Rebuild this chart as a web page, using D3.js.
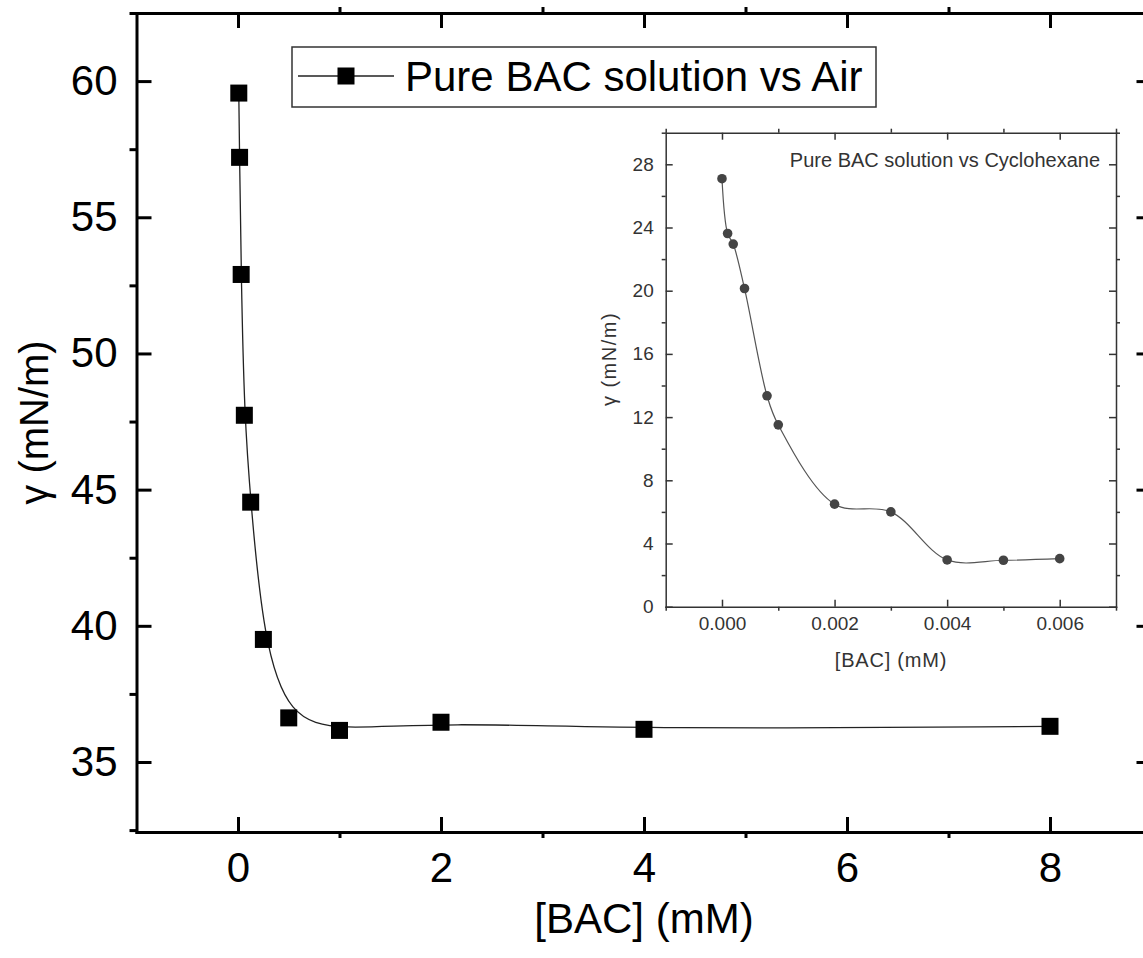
<!DOCTYPE html>
<html>
<head>
<meta charset="utf-8">
<script src="https://cdn.jsdelivr.net/npm/d3@7"></script>
<style>
  html, body { margin: 0; padding: 0; background: #fff; }
  svg { display: block; }
  text { font-family: "Liberation Sans", Arial, sans-serif; }
</style>
</head>
<body>
<svg id="chart" width="1143" height="958"></svg>
<script>
// ---- Main chart data: Pure BAC solution vs Air ----
const airConc = [0.0078125, 0.015625, 0.03125, 0.0625, 0.125, 0.25, 0.5, 1, 2, 4, 8];
const airGamma = [59.56, 57.2, 52.9, 47.73, 44.54, 39.5, 36.62, 36.16, 36.46, 36.2, 36.31];
const mainXTicks = [0, 2, 4, 6, 8];
const mainXMinor = [1, 3, 5, 7];
const mainYTicks = [35, 40, 45, 50, 55, 60];
const mainYMinor = [32.5, 37.5, 42.5, 47.5, 52.5, 57.5, 62.5];
const legendLabel = "Pure BAC solution vs Air";

// ---- Inset data: Pure BAC solution vs Cyclohexane ----
const cycConc = [0, 0.0001, 0.0002, 0.0004, 0.0008, 0.001, 0.002, 0.003, 0.004, 0.005, 0.006];
const cycGamma = [27.09, 23.62, 22.95, 20.14, 13.35, 11.51, 6.49, 6.0, 2.96, 2.94, 3.04];
const insetXTicks = [0, 0.002, 0.004, 0.006];
const insetXMinor = [-0.001, 0.001, 0.003, 0.005, 0.007];
const insetYTicks = [0, 4, 8, 12, 16, 20, 24, 28];
const insetYMinor = [2, 6, 10, 14, 18, 22, 26, 30];
const insetTitle = "Pure BAC solution vs Cyclohexane";

const svg = d3.select("#chart");
const FF = "Liberation Sans, Arial, sans-serif";
const MF = 42; // main font size

// ================= MAIN =================
const x = d3.scaleLinear().domain([-1, 9]).range([136.5, 1151.5]);
const y = d3.scaleLinear().domain([32.43, 62.5]).range([832, 13]);
const X0 = x.range()[0], X1 = x.range()[1], Y0 = y.range()[0], Y1 = y.range()[1];

const main = svg.append("g");

function styleAxis(g, width, color) {
  g.selectAll("path.domain").attr("stroke", color).attr("stroke-width", width).attr("stroke-linecap", "square");
  g.selectAll(".tick line").attr("stroke", color).attr("stroke-width", width);
}

// bottom: majors inward with labels
main.append("g").attr("transform", `translate(0,${Y0})`)
  .call(d3.axisBottom(x).tickValues(mainXTicks).tickFormat(d3.format("d")).tickSize(-15).tickSizeOuter(0).tickPadding(20))
  .call(g => { styleAxis(g, 3, "#000"); g.selectAll("text").attr("font-size", MF).attr("fill", "#000").attr("font-family", FF); });
main.append("g").attr("transform", `translate(0,${Y0})`)
  .call(d3.axisBottom(x).tickValues(mainXMinor).tickFormat("").tickSize(6).tickSizeOuter(0))
  .call(g => { styleAxis(g, 3, "#000"); g.select("path.domain").remove(); });
// top
main.append("g").attr("transform", `translate(0,${Y1})`)
  .call(d3.axisTop(x).tickValues(mainXTicks).tickFormat("").tickSize(-15).tickSizeOuter(0))
  .call(g => styleAxis(g, 3, "#000"));
main.append("g").attr("transform", `translate(0,${Y1})`)
  .call(d3.axisTop(x).tickValues(mainXMinor).tickFormat("").tickSize(6).tickSizeOuter(0))
  .call(g => { styleAxis(g, 3, "#000"); g.select("path.domain").remove(); });
// left
main.append("g").attr("transform", `translate(${X0},0)`)
  .call(d3.axisLeft(y).tickValues(mainYTicks).tickFormat(d3.format("d")).tickSize(-15).tickSizeOuter(0).tickPadding(19))
  .call(g => { styleAxis(g, 3, "#000"); g.selectAll("text").attr("font-size", MF).attr("fill", "#000").attr("font-family", FF); });
main.append("g").attr("transform", `translate(${X0},0)`)
  .call(d3.axisLeft(y).tickValues(mainYMinor).tickFormat("").tickSize(7).tickSizeOuter(0))
  .call(g => { styleAxis(g, 3, "#000"); g.select("path.domain").remove(); });
// right
main.append("g").attr("transform", `translate(${X1},0)`)
  .call(d3.axisRight(y).tickValues(mainYTicks).tickFormat("").tickSize(-15).tickSizeOuter(0))
  .call(g => styleAxis(g, 3, "#000"));
main.append("g").attr("transform", `translate(${X1},0)`)
  .call(d3.axisRight(y).tickValues(mainYMinor).tickFormat("").tickSize(7).tickSizeOuter(0))
  .call(g => { styleAxis(g, 3, "#000"); g.select("path.domain").remove(); });

// axis titles
main.append("text").attr("x", (X0 + X1) / 2).attr("y", 933).attr("text-anchor", "middle")
  .attr("font-size", MF).attr("fill", "#000").text("[BAC] (mM)");
main.append("text").attr("transform", `translate(48,${(Y0 + Y1) / 2}) rotate(-90)`).attr("text-anchor", "middle")
  .attr("font-size", 40).attr("fill", "#000").text("γ (mN/m)");

// curve + markers
const airPts = airConc.map((c, i) => [c, airGamma[i]]);
main.append("path").datum(airPts)
  .attr("fill", "none").attr("stroke", "#222").attr("stroke-width", 1.3)
  .attr("d", d3.line().x(d => x(d[0])).y(d => y(d[1])).curve(d3.curveBasis));
const sq = 17;
main.append("g").selectAll("rect").data(airPts).join("rect")
  .attr("x", d => x(d[0]) - sq / 2).attr("y", d => y(d[1]) - sq / 2)
  .attr("width", sq).attr("height", sq).attr("fill", "#000");

// legend
const leg = main.append("g");
leg.append("rect").attr("x", 292).attr("y", 47).attr("width", 584).attr("height", 60)
  .attr("fill", "#fff").attr("stroke", "#333").attr("stroke-width", 1.5);
leg.append("line").attr("x1", 298).attr("x2", 394).attr("y1", 76).attr("y2", 76)
  .attr("stroke", "#222").attr("stroke-width", 1.3);
leg.append("rect").attr("x", 346 - sq / 2).attr("y", 76 - sq / 2).attr("width", sq).attr("height", sq).attr("fill", "#000");
leg.append("text").attr("x", 405).attr("y", 91).attr("font-size", MF).attr("fill", "#000").text(legendLabel);

// ================= INSET =================
const ix = d3.scaleLinear().domain([-0.001, 0.007]).range([665.7, 1116]);
const iy = d3.scaleLinear().domain([0, 30]).range([606.7, 132.7]);
const IX0 = ix.range()[0], IX1 = ix.range()[1], IY0 = iy.range()[0], IY1 = iy.range()[1];
const inset = svg.append("g");
const ic = "#333";

inset.append("rect").attr("x", IX0).attr("y", IY1).attr("width", IX1 - IX0).attr("height", IY0 - IY1).attr("fill", "#fff");

inset.append("g").attr("transform", `translate(0,${IY0})`)
  .call(d3.axisBottom(ix).tickValues(insetXTicks).tickFormat(d3.format(".3f")).tickSize(-7).tickSizeOuter(0).tickPadding(10))
  .call(g => { styleAxis(g, 1.5, ic); g.selectAll("text").attr("font-size", 19).attr("fill", ic).attr("font-family", FF); });
inset.append("g").attr("transform", `translate(0,${IY0})`)
  .call(d3.axisBottom(ix).tickValues(insetXMinor).tickFormat("").tickSize(4).tickSizeOuter(0))
  .call(g => { styleAxis(g, 1.5, ic); g.select("path.domain").remove(); });
inset.append("g").attr("transform", `translate(0,${IY1})`)
  .call(d3.axisTop(ix).tickValues(insetXTicks).tickFormat("").tickSize(-7).tickSizeOuter(0))
  .call(g => styleAxis(g, 1.5, ic));
inset.append("g").attr("transform", `translate(0,${IY1})`)
  .call(d3.axisTop(ix).tickValues(insetXMinor).tickFormat("").tickSize(4).tickSizeOuter(0))
  .call(g => { styleAxis(g, 1.5, ic); g.select("path.domain").remove(); });
inset.append("g").attr("transform", `translate(${IX0},0)`)
  .call(d3.axisLeft(iy).tickValues(insetYTicks).tickFormat(d3.format("d")).tickSize(-7).tickSizeOuter(0).tickPadding(12))
  .call(g => { styleAxis(g, 1.5, ic); g.selectAll("text").attr("font-size", 19).attr("fill", ic).attr("font-family", FF); });
inset.append("g").attr("transform", `translate(${IX0},0)`)
  .call(d3.axisLeft(iy).tickValues(insetYMinor).tickFormat("").tickSize(4).tickSizeOuter(0))
  .call(g => { styleAxis(g, 1.5, ic); g.select("path.domain").remove(); });
inset.append("g").attr("transform", `translate(${IX1},0)`)
  .call(d3.axisRight(iy).tickValues(insetYTicks).tickFormat("").tickSize(-7).tickSizeOuter(0))
  .call(g => styleAxis(g, 1.5, ic));
inset.append("g").attr("transform", `translate(${IX1},0)`)
  .call(d3.axisRight(iy).tickValues(insetYMinor).tickFormat("").tickSize(4).tickSizeOuter(0))
  .call(g => { styleAxis(g, 1.5, ic); g.select("path.domain").remove(); });

inset.append("text").attr("x", 891).attr("y", 667).attr("text-anchor", "middle")
  .attr("font-size", 20).attr("letter-spacing", 0.8).attr("fill", ic).text("[BAC] (mM)");
inset.append("text").attr("transform", `translate(616,359) rotate(-90)`).attr("text-anchor", "middle")
  .attr("font-size", 20).attr("letter-spacing", 1.5).attr("fill", ic).text("γ (mN/m)");
inset.append("text").attr("x", 1100).attr("y", 167).attr("text-anchor", "end")
  .attr("font-size", 20).attr("fill", ic).text(insetTitle);

const cycPts = cycConc.map((c, i) => [c, cycGamma[i]]);
inset.append("path").datum(cycPts)
  .attr("fill", "none").attr("stroke", "#555").attr("stroke-width", 1.2)
  .attr("d", d3.line().x(d => ix(d[0])).y(d => iy(d[1])).curve(d3.curveCatmullRom.alpha(0.5)));
inset.append("g").selectAll("circle").data(cycPts).join("circle")
  .attr("cx", d => ix(d[0])).attr("cy", d => iy(d[1])).attr("r", 4.8).attr("fill", "#444");
</script>
</body>
</html>
